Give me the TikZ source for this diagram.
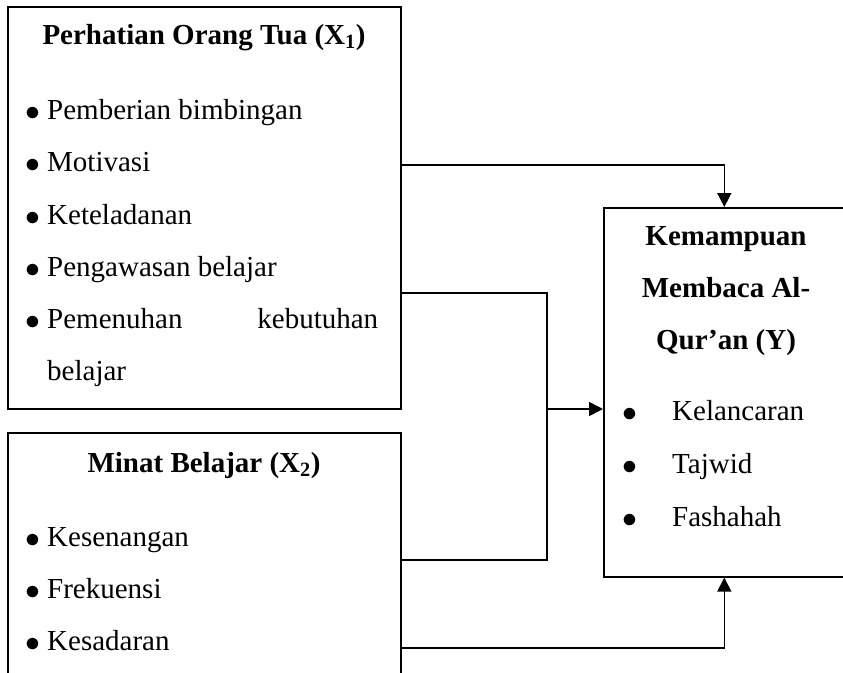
\documentclass[tikz,border=0pt]{standalone}
\usepackage{fontspec}
\setmainfont{Liberation Serif}
\usetikzlibrary{arrows.meta}

\tikzset{
  kotak/.style={draw, line width=1.6pt, inner sep=0pt, anchor=north west},
  garis/.style={line width=1.6pt},
  panah/.style={garis, -{Triangle[length=14pt,width=14pt]}},
  teks/.style={inner sep=0pt, anchor=base west, font=\fontsize{29}{35}\selectfont},
  judul/.style={inner sep=0pt, anchor=base, font=\fontsize{29}{35}\selectfont\bfseries},
}
\newcommand{\titik}{\raisebox{-1pt}{\scalebox{1.2}{$\bullet$}}}
\newcommand{\butir}[1]{\makebox[22pt][l]{\titik}#1}
\newcommand{\butirY}[1]{\makebox[50pt][l]{\titik}#1}

\begin{document}
\begin{tikzpicture}[x=1pt,y=-1pt]
	\useasboundingbox (0,0) rectangle (843,672);
	
	%%% kotak
	\node[kotak, minimum width=393pt, minimum height=402pt] (perhatian) at (7,6) {};
	\node[kotak, minimum width=393pt, minimum height=260pt] (minat) at (7,432) {};
	\node[kotak, minimum width=241pt, minimum height=369pt] (kemampuan) at (603,207) {};
	
	%%% X1
	\node[judul] (judulx1) at (204,44) {Perhatian Orang Tua (X\textsubscript{1})};
	\node[teks] (bimbingan) at (25,119) {\butir{Pemberian bimbingan}};
	\node[teks] (motivasi) at (25,171) {\butir{Motivasi}};
	\node[teks] (teladan) at (25,224) {\butir{Keteladanan}};
	\node[teks] (awas) at (25,276) {\butir{Pengawasan belajar}};
	\node[teks] (penuh) at (25,328) {\butir{\makebox[331pt][s]{Pemenuhan\hfill kebutuhan}}};
	\node[teks] (penuh2) at (47,380) {belajar};
	
	%%% X2
	\node[judul] (judulx2) at (204,472) {Minat Belajar (X\textsubscript{2})};
	\node[teks] (senang) at (25,546) {\butir{Kesenangan}};
	\node[teks] (frek) at (25,598) {\butir{Frekuensi}};
	\node[teks] (sadar) at (25,650) {\butir{Kesadaran}};
	
	%%% Y
	\node[judul] (judully1) at (726,245) {Kemampuan};
	\node[judul] (judully2) at (726,297) {Membaca Al-};
	\node[judul] (judully3) at (726,349) {Qur’an (Y)};
	\node[teks] (lancar) at (622,420) {\butirY{Kelancaran}};
	\node[teks] (tajwid) at (622,473) {\butirY{Tajwid}};
	\node[teks] (fasih) at (622,526) {\butirY{Fashahah}};
	
	%%% garis
	\coordinate (c1) at (perhatian.east |- 0,165);
	\coordinate (c2) at (perhatian.east |- 0,293);
	\coordinate (c3) at (minat.east |- 0,560);
	\coordinate (c4) at (minat.east |- 0,648);
	\coordinate (simpul) at (547,409);
	
	\draw[panah] (c1) -| (kemampuan.north);
	\draw[garis] (c2) -| (simpul) |- (c3);
	\draw[panah] (simpul) -- (simpul -| kemampuan.west);
	\draw[panah] (c4) -| (kemampuan.south);
\end{tikzpicture}
\end{document}
